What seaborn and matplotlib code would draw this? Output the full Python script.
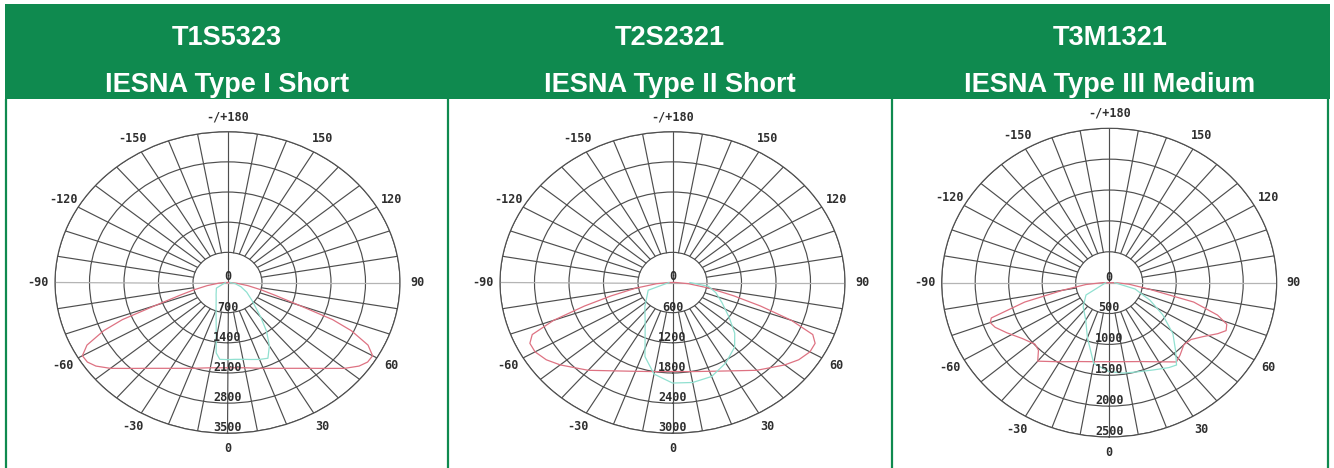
import numpy as np
import pandas as pd
import matplotlib
matplotlib.use("Agg")
import matplotlib.pyplot as plt
import matplotlib.patches as patches
import matplotlib.transforms as mtransforms
import seaborn as sns

# ---- data ----
codes = ['T1S5323', 'T2S2321', 'T3M1321']
types = ['IESNA Type I Short', 'IESNA Type II Short', 'IESNA Type III Medium']
r_max = [3500, 3000, 2500]
r_step = [700, 600, 500]

theta_ticks = [0, 30, 60, 90, 120, 150, 180, -150, -120, -90, -60, -30]
theta_labels = ['0', '30', '60', '90', '120', '150', '-/+180', '-150', '-120', '-90', '-60', '-30']

# T1S5323 - plane 90/270 (red) and plane 0/180 (cyan), candela
t1_red_ang = [-180, -95, -90, -85, -80, -76, -73, -70, -68, -66, -63, -60, -57, -54, -50, -45, -40, -30, -20, -10,
              0, 10, 20, 30, 40, 45, 50, 54, 57, 60, 63, 66, 68, 70, 73, 76, 80, 85, 90, 95, 180]
t1_red_cd = [0, 0, 50, 180, 420, 700, 1000, 1550, 2300, 2750, 3200, 3400, 3390, 3300, 3100, 2820, 2600, 2300, 2120, 2010,
             1980, 2010, 2120, 2300, 2600, 2820, 3100, 3300, 3390, 3400, 3200, 2750, 2300, 1550, 1000, 700, 420, 180, 50, 0, 0]
t1_cyan_ang = [-90, -60, -40, -30, -20, -12, -8, -5, 0, 5, 10, 15, 20, 25, 30, 35, 40, 50, 60, 70, 80, 90]
t1_cyan_cd = [40, 260, 360, 460, 680, 1100, 1650, 1790, 1790, 1790, 1810, 1850, 1900, 1940, 1700, 1380, 1050, 650,
              450, 290, 160, 50]

# T2S2321
t2_red_ang = [-180, -95, -90, -85, -80, -76, -73, -70, -67, -64, -60, -55, -50, -40, -30, -20, -10,
              0, 10, 20, 30, 40, 50, 55, 60, 64, 67, 70, 73, 76, 80, 85, 90, 95, 180]
t2_red_cd = [0, 0, 60, 280, 650, 1100, 1600, 2200, 2650, 2760, 2760, 2680, 2550, 2280, 2030, 1880, 1800,
             1770, 1800, 1880, 2030, 2280, 2550, 2680, 2760, 2760, 2650, 2200, 1600, 1100, 650, 280, 60, 0, 0]
t2_cyan_ang = [-90, -70, -45, -30, -18, -10, 0, 10, 20, 30, 40, 47, 55, 65, 75, 83, 90]
t2_cyan_cd = [60, 450, 680, 950, 1550, 1850, 2000, 2020, 1990, 1850, 1680, 1480, 1200, 950, 780, 630, 300]

# T3M1321
t3_red_ang = [-180, -95, -90, -85, -80, -76, -72, -70, -67, -62, -55, -48, -44, -40, -30, -20, -10,
              0, 10, 20, 30, 38, 42, 48, 53, 58, 63, 66, 69, 72, 76, 80, 85, 90, 95, 180]
t3_red_cd = [0, 0, 100, 350, 700, 1300, 1850, 1890, 1850, 1730, 1580, 1490, 1520, 1660, 1480, 1360, 1300,
             1280, 1300, 1360, 1480, 1630, 1580, 1500, 1530, 1650, 1820, 1910, 1880, 1700, 1300, 600, 300, 100, 0, 0]
t3_cyan_ang = [-90, -60, -45, -30, -20, -10, 0, 8, 15, 25, 33, 37, 42, 49, 57, 65, 75, 90]
t3_cyan_cd = [50, 400, 550, 700, 950, 1330, 1440, 1480, 1500, 1560, 1640, 1670, 1480, 1260, 950, 670, 400, 80]

red_curves = [(t1_red_ang, t1_red_cd), (t2_red_ang, t2_red_cd), (t3_red_ang, t3_red_cd)]
cyan_curves = [(t1_cyan_ang, t1_cyan_cd), (t2_cyan_ang, t2_cyan_cd), (t3_cyan_ang, t3_cyan_cd)]

# ---- style / layout ----
GREEN = '#0f8a4f'
RED = '#de7282'
CYAN = '#90e0d0'
GRID = '#4e4e4e'
LIGHT = '#b4b4b4'
W, H = 1334, 468

# polar boxes in pixels: left, right, top, bottom
boxes = [(55, 400, 131.7, 433.3), (500, 845, 131.7, 433.3), (941.7, 1276.7, 128.3, 437.0)]
col_centers = [227, 670, 1110]

sns.set_theme(style="white")
plt.rcParams['font.family'] = ['Liberation Sans', 'DejaVu Sans']

fig = plt.figure(figsize=(W / 100, H / 100), dpi=100)

bg = fig.add_axes([0, 0, 1, 1])
bg.set_xlim(0, W)
bg.set_ylim(H, 0)
bg.axis('off')
bg.add_patch(patches.Rectangle((5, 4), 1325, 95, facecolor=GREEN, edgecolor='none'))
bg.vlines([6, 447.5, 892, 1328], 99, H, color=GREEN, lw=1.6)

for i in range(3):
    bg.text(col_centers[i], 45, codes[i], ha='center', va='baseline', color='white',
            fontsize=19.5, fontweight='bold')
    bg.text(col_centers[i], 92, types[i], ha='center', va='baseline', color='white',
            fontsize=19.5, fontweight='bold')

    l, r, t, b = boxes[i]
    ax = fig.add_axes([l / W, 1 - b / H, (r - l) / W, (b - t) / H], projection='polar')
    ax.set_aspect('auto')
    ax.set_facecolor('none')
    ax.set_theta_zero_location('S')
    ax.set_theta_direction(1)

    rm, st = r_max[i], r_step[i]
    rings = np.arange(st, rm + 1, st)

    # curves
    for (ang, cd), col in [(red_curves[i], RED), (cyan_curves[i], CYAN)]:
        df = pd.DataFrame({'theta': np.deg2rad(ang), 'cd': cd})
        sns.lineplot(data=df, x='theta', y='cd', ax=ax, sort=False, estimator=None,
                     color=col, lw=0.9, zorder=3)

    # grid
    ax.set_ylim(0, rm)
    ax.set_yticks(rings)
    ax.set_yticklabels([])
    ax.set_xticks([])
    ax.yaxis.grid(True, color=GRID, lw=0.85)
    ax.xaxis.grid(False)
    ax.spines['polar'].set_color(GRID)
    ax.spines['polar'].set_linewidth(0.85)
    for a in range(0, 360, 10):
        if a in (90, 270):
            ax.plot([np.deg2rad(a)] * 2, [0, rm], color=LIGHT, lw=0.9, zorder=1)
        elif a in (0, 180):
            ax.plot([np.deg2rad(a)] * 2, [0, rm], color=GRID, lw=0.85, zorder=1)
        else:
            ax.plot([np.deg2rad(a)] * 2, [st, rm], color=GRID, lw=0.85, zorder=1)
    ax.set_xlabel('')
    ax.set_ylabel('')

    for a, lbl in zip(theta_ticks, theta_labels):
        ax.text(np.deg2rad(a), rm * 1.1, lbl, ha='center', va='center', color='#2e2e2e',
                fontsize=8.5, fontweight='bold', family='DejaVu Sans Mono', zorder=5)

    up = mtransforms.offset_copy(ax.transData, fig=fig, x=0, y=4, units='points')
    for rv in np.concatenate([[0], rings]):
        ax.text(0, rv, f'{int(rv)}', transform=up, ha='center', va='center', color='#2e2e2e',
                fontsize=8.5, fontweight='bold', family='DejaVu Sans Mono', zorder=5)

fig.savefig('out.png', dpi=100)
